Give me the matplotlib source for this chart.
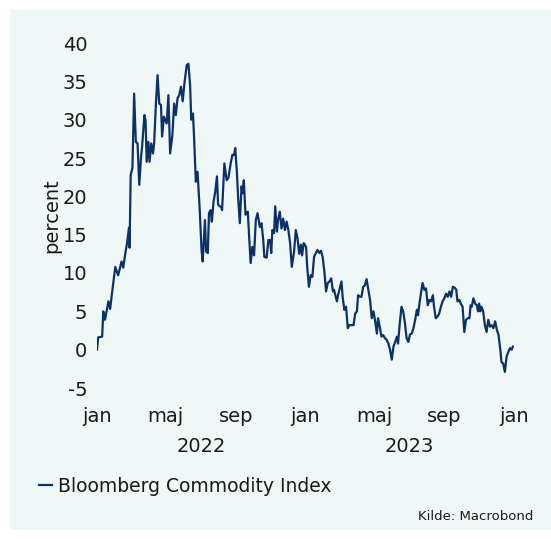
import matplotlib
matplotlib.use("Agg")
import matplotlib.pyplot as plt
from matplotlib.patches import Rectangle
import pandas as pd

# ---- data: days since 2022-01-01 and cumulative change (percent) ----
days = [0, 2, 9, 11, 14, 20, 23, 26, 32, 37, 43, 46, 49, 53, 56, 57, 59, 62, 65, 68,
        71, 74, 77, 79, 83, 85, 87, 90, 92, 95, 98, 100, 103, 106, 109, 112, 114, 117, 122, 125,
        128, 132, 135, 138, 141, 144, 147, 150, 153, 157, 160, 163, 165, 168, 170, 173, 176, 180, 183, 185,
        189, 191, 194, 196, 199, 201, 204, 207, 210, 212, 217, 219, 223, 227, 230, 234, 237, 240, 242, 245,
        247, 250, 253, 255, 257, 260, 264, 266, 269, 272, 275, 278, 281, 285, 288, 291, 293, 297, 300, 303,
        305, 307, 310, 312, 315, 317, 320, 323, 326, 329, 332, 335, 338, 341, 345, 348, 351, 354, 357, 359,
        362, 366, 368, 371, 374, 377, 380, 383, 386, 389, 392, 395, 398, 401, 404, 407, 410, 413, 415, 420,
        422, 425, 428, 430, 433, 436, 439, 442, 449, 452, 455, 457, 460, 463, 466, 469, 472, 475, 478, 481,
        484, 487, 490, 492, 495, 498, 501, 504, 507, 510, 513, 516, 519, 522, 525, 527, 530, 533, 536, 539,
        542, 545, 548, 551, 554, 557, 560, 562, 565, 568, 570, 573, 576, 579, 582, 585, 588, 590, 593, 596,
        599, 602, 605, 608, 611, 614, 617, 620, 623, 626, 629, 631, 634, 637, 640, 643, 646, 649, 652, 654,
        656, 659, 662, 665, 667, 669, 671, 673, 676, 679, 682, 685, 688, 691, 694, 697, 700, 703, 706, 708,
        711, 714, 717, 720, 723, 726, 728]
values = [0.0, 1.6, 1.7, 5.0, 3.9, 6.3, 5.3, 7.2, 10.8, 9.7, 11.5, 10.7, 12.3, 14.1, 15.9, 13.3, 22.8, 23.7, 33.4, 27.1,
          26.9, 21.5, 25.0, 26.5, 30.6, 29.9, 24.5, 27.1, 24.5, 26.9, 25.6, 26.9, 31.9, 35.8, 32.1, 31.9, 27.8, 30.4, 29.5, 33.2,
          25.6, 28.0, 32.1, 30.6, 32.8, 33.2, 34.3, 32.4, 34.7, 37.1, 37.3, 34.5, 30.0, 30.8, 27.6, 21.9, 23.2, 18.0, 13.0, 11.5,
          16.9, 12.8, 12.6, 17.8, 18.2, 16.7, 19.3, 20.6, 22.6, 18.9, 18.6, 18.2, 24.3, 22.1, 22.4, 24.3, 25.4, 25.4, 26.3, 23.0,
          19.9, 16.5, 21.3, 20.4, 22.1, 17.6, 18.0, 15.2, 11.3, 13.4, 12.3, 16.9, 17.8, 16.0, 16.5, 14.3, 12.1, 12.0, 14.3, 14.3,
          12.6, 15.6, 15.2, 18.7, 15.4, 16.9, 18.0, 15.8, 17.1, 15.6, 16.7, 15.6, 13.9, 10.8, 12.8, 15.6, 14.5, 12.5, 13.7, 12.3,
          13.9, 13.4, 10.8, 8.2, 9.7, 9.5, 12.1, 12.6, 13.0, 12.6, 12.9, 12.1, 10.2, 7.6, 8.7, 8.9, 9.3, 7.6, 7.8, 6.3,
          7.1, 8.0, 8.9, 6.9, 5.2, 5.6, 2.8, 3.2, 3.2, 4.7, 5.0, 7.1, 6.9, 6.9, 8.2, 8.4, 9.2, 7.8, 6.5, 4.1,
          5.0, 3.7, 2.1, 4.1, 3.0, 1.7, 1.9, 1.5, 1.3, 0.8, 0.0, -1.3, 0.4, 1.0, 1.7, 0.8, 3.4, 5.6, 5.0, 3.5,
          1.5, 1.0, 2.0, 2.1, 2.8, 3.9, 5.2, 4.5, 6.3, 7.8, 8.7, 7.8, 8.0, 5.8, 6.5, 6.3, 7.1, 5.6, 4.1, 4.3,
          4.7, 5.6, 6.3, 6.7, 7.3, 6.9, 7.6, 6.9, 8.2, 8.1, 7.8, 6.3, 6.5, 6.0, 5.6, 2.3, 3.9, 4.1, 4.1, 5.8,
          5.6, 6.7, 6.0, 5.8, 5.0, 6.0, 5.0, 5.6, 5.0, 3.2, 2.3, 3.9, 3.0, 3.2, 2.8, 3.7, 2.6, 1.9, 0.0, -1.6,
          -1.8, -2.9, -0.9, -0.3, 0.2, 0.0, 0.4]

series_name = "Bloomberg Commodity Index"
y_label = "percent"
y_ticks = [-5, 0, 5, 10, 15, 20, 25, 30, 35, 40]
month_ticks = ["2022-01-01", "2022-05-01", "2022-09-01", "2023-01-01", "2023-05-01", "2023-09-01", "2024-01-01"]
month_labels = ["jan", "maj", "sep", "jan", "maj", "sep", "jan"]
year_labels = ["2022", "2023"]
year_label_pos = ["2022-07-02", "2023-07-02"]
source = "Kilde: Macrobond"

dates = pd.Timestamp("2022-01-01") + pd.to_timedelta(days, unit="D")

W, H = 551, 539
fig = plt.figure(figsize=(W / 100, H / 100), dpi=100)
fig.patch.set_facecolor("white")
bg = "#f0f8f7"
navy = "#0c3166"
txt = "#1a1a1a"
fig.add_artist(Rectangle((10 / W, 9 / H), 1 - 10 / W, 1 - 19 / H, transform=fig.transFigure,
                         facecolor=bg, edgecolor="none", zorder=0))

ymin, ymax = -6, 41
px_per = 345 / 45
ax_bottom = (539 - 388 - (-5 - ymin) * px_per) / H
ax_top = (539 - 43 + (ymax - 40) * px_per) / H
ax = fig.add_axes([97 / W, ax_bottom, 417 / W, ax_top - ax_bottom])
ax.set_facecolor("none")
ax.plot(dates, values, color=navy, lw=1.6, label=series_name)
ax.set_ylim(ymin, ymax)
ax.set_xlim(pd.Timestamp("2022-01-01"), pd.Timestamp("2024-01-01"))
ax.set_yticks(y_ticks)
ax.set_yticklabels([str(v) for v in y_ticks])
ax.set_xticks(pd.to_datetime(month_ticks))
ax.set_xticklabels(month_labels)
for s in ax.spines.values():
    s.set_visible(False)
ax.tick_params(axis="both", length=0, labelsize=14, colors=txt)
ax.tick_params(axis="y", pad=7)
ax.tick_params(axis="x", pad=8)
ax.set_ylabel(y_label, fontsize=14, color=txt, labelpad=1)

for lbl, pos in zip(year_labels, year_label_pos):
    ax.text(pd.Timestamp(pos), -0.14, lbl, transform=ax.get_xaxis_transform(),
            ha="center", va="center", fontsize=14, color=txt)

leg = fig.legend(loc="center left", bbox_to_anchor=(39 / W, 1 - 486 / H), frameon=False,
                 handlelength=0.7, handletextpad=0.3, fontsize=13.5, borderaxespad=0, borderpad=0)
for t in leg.get_texts():
    t.set_color(txt)

fig.text(533 / W, 1 - 516 / H, source, ha="right", va="center", fontsize=9.5, color=txt)

fig.savefig("out.png", dpi=100, facecolor="white")
